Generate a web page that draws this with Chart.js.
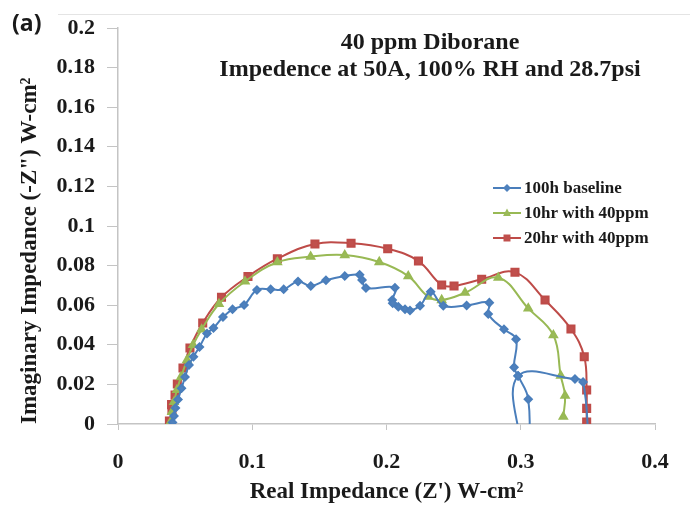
<!DOCTYPE html>
<html>
<head>
<meta charset="utf-8">
<script src="https://cdn.jsdelivr.net/npm/chart.js@4.4.1/dist/chart.umd.min.js"></script>
<style>
  html, body { margin: 0; padding: 0; background: #fff; }
</style>
</head>
<body>
<canvas id="myChart" width="690" height="506"></canvas>
<script>
// Real part (x) and imaginary part (y) of each run
var baselineRe = [0.0406, 0.0417, 0.0428, 0.0447, 0.0473, 0.0499, 0.0529, 0.0562, 0.0607, 0.0663,
  0.0711, 0.0782, 0.0853, 0.0939, 0.1035, 0.1137, 0.1234, 0.1341, 0.1436, 0.1549,
  0.1689, 0.1800, 0.1818, 0.1847, 0.2063, 0.2043, 0.2046, 0.2088, 0.2138, 0.2175,
  0.2250, 0.2329, 0.2423, 0.2597, 0.2766, 0.2758, 0.2875, 0.2965, 0.2950, 0.2980,
  0.3056, 0.3047, 0.2995, 0.2980, 0.3404, 0.3464, 0.3508];
var baselineIm = [0.0008, 0.0040, 0.0081, 0.0124, 0.0180, 0.0237, 0.0298, 0.0340, 0.0389, 0.0457,
  0.0485, 0.0540, 0.0579, 0.0601, 0.0677, 0.0680, 0.0680, 0.0720, 0.0697, 0.0726,
  0.0747, 0.0754, 0.0727, 0.0687, 0.0688, 0.0626, 0.0610, 0.0592, 0.0580, 0.0573,
  0.0597, 0.0668, 0.0597, 0.0599, 0.0613, 0.0556, 0.0478, 0.0428, 0.0286, 0.0244,
  0.0125, -0.0131, -0.0080, 0.0242, 0.0227, 0.0212, -0.0106];

var tenHrRe = [0.0387, 0.0402, 0.0417, 0.0439, 0.0469, 0.0514, 0.0559, 0.0623, 0.0752, 0.0946,
  0.1187, 0.1435, 0.1689, 0.1946, 0.2162, 0.2311, 0.2411, 0.2585, 0.2833, 0.3056,
  0.3243, 0.3298, 0.3330, 0.3317];
var tenHrIm = [0.0005, 0.0061, 0.0111, 0.0172, 0.0237, 0.0323, 0.0399, 0.0478, 0.0606, 0.0720,
  0.0817, 0.0845, 0.0853, 0.0818, 0.0747, 0.0643, 0.0626, 0.0663, 0.0739, 0.0584,
  0.0449, 0.0244, 0.0143, 0.0037];

var twentyHrRe = [0.0383, 0.0402, 0.0399, 0.0425, 0.0442, 0.0484, 0.0536, 0.0631, 0.0771, 0.0968,
  0.1187, 0.1467, 0.1736, 0.2009, 0.2238, 0.2411, 0.2503, 0.2709, 0.2957, 0.3181,
  0.3374, 0.3473, 0.3491, 0.3491, 0.3491];
var twentyHrIm = [0.0015, 0.0071, 0.0098, 0.0146, 0.0202, 0.0283, 0.0384, 0.0510, 0.0640, 0.0745,
  0.0835, 0.0909, 0.0913, 0.0885, 0.0823, 0.0702, 0.0697, 0.0731, 0.0766, 0.0626,
  0.0480, 0.0340, 0.0172, 0.0079, 0.0010];

var seriesNames = ["100h baseline", "10hr with 40ppm", "20hr with 40ppm"];
var xTicks = [0, 0.1, 0.2, 0.3, 0.4];
var yTicks = [0, 0.02, 0.04, 0.06, 0.08, 0.1, 0.12, 0.14, 0.16, 0.18, 0.2];
var titleLines = ["40 ppm Diborane", "Impedence at 50A, 100% RH and 28.7psi"];

function toPoints(xs, ys) {
  return xs.map(function (x, i) { return { x: x, y: ys[i] }; });
}
function tickLabel(v) { return String(+v.toFixed(2)); }

var serif = "'Liberation Serif', 'Times New Roman', serif";
var axisGray = "#c4c4c4";

// title, panel letter and legend are drawn over the plot area
var overlay = {
  id: "overlay",
  beforeDraw: function (chart) {
    var ctx = chart.ctx;
    ctx.save();
    ctx.fillStyle = "#fff";
    ctx.fillRect(0, 0, chart.width, chart.height);
    ctx.strokeStyle = "#e4e4e4";
    ctx.lineWidth = 1;
    ctx.beginPath();
    ctx.moveTo(58, 14.5);
    ctx.lineTo(chart.width, 14.5);
    ctx.stroke();
    ctx.restore();
  },
  afterDraw: function (chart) {
    var ctx = chart.ctx;
    ctx.save();
    ctx.fillStyle = "#1a1a1a";
    ctx.textBaseline = "middle";
    ctx.font = "bold 23px 'Open Sans', 'Liberation Sans', sans-serif";
    ctx.textAlign = "left";
    ctx.fillText("(a)", 12, 24);

    ctx.font = "bold 24px " + serif;
    ctx.textAlign = "center";
    ctx.fillText(titleLines[0], 430, 43);
    ctx.fillText(titleLines[1], 430, 70);

    // legend
    ctx.font = "bold 17px " + serif;
    ctx.textAlign = "left";
    chart.data.datasets.forEach(function (ds, i) {
      var y = 188 + i * 25;
      ctx.strokeStyle = ds.borderColor;
      ctx.lineWidth = 2;
      ctx.beginPath();
      ctx.moveTo(493, y);
      ctx.lineTo(521, y);
      ctx.stroke();
      ctx.fillStyle = ds.pointBackgroundColor;
      ctx.beginPath();
      if (ds.pointStyle === "rectRot") {
        ctx.moveTo(507 - 4, y); ctx.lineTo(507, y - 4); ctx.lineTo(507 + 4, y); ctx.lineTo(507, y + 4);
      } else if (ds.pointStyle === "triangle") {
        ctx.moveTo(507, y - 4.5); ctx.lineTo(507 + 4, y + 3); ctx.lineTo(507 - 4, y + 3);
      } else {
        ctx.rect(507 - 3.5, y - 3.5, 7, 7);
      }
      ctx.closePath();
      ctx.fill();
      ctx.fillStyle = "#1a1a1a";
      ctx.fillText(ds.label, 524, y + 1);
    });
    ctx.restore();
  }
};

var ctx = document.getElementById("myChart").getContext("2d");
var chart = new Chart(ctx, {
  type: "scatter",
  data: {
    datasets: [
      {
        label: seriesNames[0],
        data: toPoints(baselineRe, baselineIm),
        showLine: true,
        borderColor: "#4a7ebb",
        backgroundColor: "#4f81bd",
        pointBackgroundColor: "#4f81bd",
        pointBorderColor: "#4a7ebb",
        pointStyle: "rectRot",
        pointRadius: 3.6,
        borderWidth: 2
      },
      {
        label: seriesNames[1],
        data: toPoints(tenHrRe, tenHrIm),
        showLine: true,
        borderColor: "#98b954",
        backgroundColor: "#9bbb59",
        pointBackgroundColor: "#9bbb59",
        pointBorderColor: "#98b954",
        pointStyle: "triangle",
        pointRadius: 4.2,
        borderWidth: 2
      },
      {
        label: seriesNames[2],
        data: toPoints(twentyHrRe, twentyHrIm),
        showLine: true,
        borderColor: "#be4b48",
        backgroundColor: "#c0504d",
        pointBackgroundColor: "#c0504d",
        pointBorderColor: "#be4b48",
        pointStyle: "rect",
        pointRadius: 5,
        borderWidth: 2
      }
    ]
  },
  options: {
    responsive: false,
    animation: false,
    layout: { padding: { left: 0, right: 35, top: 28, bottom: 0 } },
    elements: {
      line: { tension: 0.4, capBezierPoints: false },
      point: { borderWidth: 1, hoverRadius: 5 }
    },
    plugins: {
      legend: { display: false },
      tooltip: { enabled: false }
    },
    scales: {
      x: {
        type: "linear",
        min: 0,
        max: 0.4,
        afterBuildTicks: function (s) { s.ticks = xTicks.map(function (v) { return { value: v }; }); },
        afterFit: function (s) { s.height = 82; },
        ticks: {
          callback: tickLabel,
          font: { family: serif, size: 22, weight: "bold" },
          color: "#1a1a1a",
          padding: 19,
          maxRotation: 0
        },
        grid: { drawOnChartArea: false, tickLength: 6, color: axisGray, tickColor: axisGray },
        border: { color: axisGray, width: 1.5 },
        title: {
          display: true,
          text: "Real Impedance (Z') W-cm\u00b2",
          font: { family: serif, size: 23, weight: "bold" },
          color: "#1a1a1a",
          padding: { top: 0, bottom: 0 }
        }
      },
      y: {
        type: "linear",
        min: 0,
        max: 0.2,
        afterBuildTicks: function (s) { s.ticks = yTicks.map(function (v) { return { value: v }; }); },
        afterFit: function (s) { s.width = 118; },
        ticks: {
          callback: tickLabel,
          font: { family: serif, size: 22, weight: "bold" },
          color: "#1a1a1a",
          padding: 12
        },
        grid: { drawOnChartArea: false, tickLength: 11, color: axisGray, tickColor: axisGray },
        border: { color: axisGray, width: 1.5 },
        title: {
          display: true,
          text: "Imaginary Impedance (-Z\") W-cm\u00b2",
          align: "start",
          font: { family: serif, size: 23, weight: "bold" },
          color: "#1a1a1a",
          padding: { top: 16, bottom: 0 }
        }
      }
    }
  },
  plugins: [overlay]
});
</script>
</body>
</html>
